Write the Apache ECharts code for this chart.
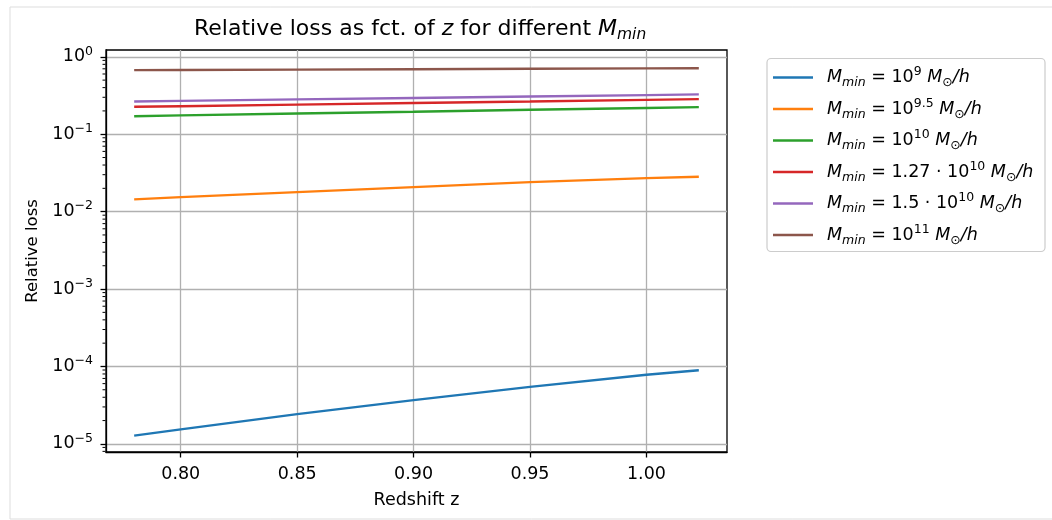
<!DOCTYPE html>
<html>
<head>
<meta charset="utf-8">
<script src="https://cdn.jsdelivr.net/npm/echarts@6/dist/echarts.min.js"></script>
<style>
  html, body { margin: 0; padding: 0; background: #fff; }
  #chart { width: 1052px; height: 520px; }
</style>
</head>
<body>
<div id="chart"></div>
<script>
// ---- data ----
const zValues = [0.78, 0.80, 0.85, 0.90, 0.95, 1.00, 1.0225];
const loss1e9   = [1.28e-5, 1.54e-5, 2.42e-5, 3.67e-5, 5.45e-5, 7.8e-5, 8.95e-5];
const loss1e95  = [0.01438, 0.01539, 0.01786, 0.02074, 0.02404, 0.0271, 0.0282];
const loss1e10  = [0.171, 0.175, 0.185, 0.195, 0.207, 0.218, 0.224];
const loss127e10 = [0.226, 0.230, 0.241, 0.253, 0.265, 0.278, 0.284];
const loss15e10 = [0.265, 0.270, 0.282, 0.294, 0.307, 0.320, 0.327];
const loss1e11  = [0.673, 0.676, 0.684, 0.692, 0.700, 0.708, 0.712];

const seriesNames = ['Mmin=1e9', 'Mmin=1e9.5', 'Mmin=1e10', 'Mmin=1.27e10', 'Mmin=1.5e10', 'Mmin=1e11'];
const legendCoef = ['', '', '', '1.27 · ', '1.5 · ', ''];
const legendExp  = ['9', '9.5', '10', '10', '10', '11'];
const colors = ['#1f77b4', '#ff7f0e', '#2ca02c', '#d62728', '#9467bd', '#8c564b'];
const allLoss = [loss1e9, loss1e95, loss1e10, loss127e10, loss15e10, loss1e11];

const xTicks = [0.80, 0.85, 0.90, 0.95, 1.00];
const yTicks = [1e-5, 1e-4, 1e-3, 1e-2, 1e-1, 1];
const xMin = 0.7679, xMax = 1.0346;
const yMin = Math.pow(10, -5.105), yMax = Math.pow(10, 0.088);

// minor tick positions of the log axis (2..9 x 10^k)
const yMinor = [];
for (let k = -6; k <= 0; k++) {
  for (let m = 2; m <= 9; m++) {
    const v = m * Math.pow(10, k);
    if (v > yMin && v < yMax) yMinor.push(v);
  }
}

const FONT = 'DejaVu Sans';
const FS = 17.5;      // tick / legend / axis-name font size
const FSS = 12.5;     // sub/superscript size
const chart = echarts.init(document.getElementById('chart'), null, { renderer: 'canvas' });

const lineSeries = seriesNames.map((name, i) => ({
  name: name,
  type: 'line',
  data: zValues.map((z, j) => [z, allLoss[i][j]]),
  showSymbol: false,
  symbol: 'none',
  lineStyle: { width: 2.4, color: colors[i] },
  itemStyle: { color: colors[i] },
  z: 3,
  animation: false
}));

const minorSeries = {
  name: 'minor',
  type: 'custom',
  clip: false,
  silent: true,
  z: 5,
  data: yMinor.map(v => [xMin, v]),
  renderItem: function (params, api) {
    const p = api.coord([api.value(0), api.value(1)]);
    return {
      type: 'line',
      shape: { x1: p[0] - 3.5, y1: p[1], x2: p[0] - 0.5, y2: p[1] },
      style: { stroke: '#000', lineWidth: 1 }
    };
  },
  animation: false
};

const option = {
  backgroundColor: '#fff',
  animation: false,
  color: colors,
  textStyle: { fontFamily: FONT },
  title: {
    text: 'Relative loss as fct. of {i|z} for different {i|M}{sub|min}',
    left: 194,
    top: 15,
    padding: 0,
    textStyle: {
      fontFamily: FONT, fontSize: 22, fontWeight: 'normal', color: '#000',
      lineHeight: 28,
      rich: {
        i: { fontFamily: FONT, fontSize: 22, fontStyle: 'italic', color: '#000', lineHeight: 28 },
        sub: { fontFamily: FONT, fontSize: 15.5, fontStyle: 'italic', color: '#000', lineHeight: 15, verticalAlign: 'bottom' }
      }
    }
  },
  graphic: [
    { type: 'rect', z: -10, silent: true, shape: { x: 10, y: 7, width: 1100, height: 512 },
      style: { fill: 'none', stroke: '#dddddd', lineWidth: 1 } },
    { type: 'rect', z: 1, silent: true, shape: { x: 767, y: 58.5, width: 278, height: 193, r: 4 },
      style: { fill: '#fff', stroke: '#cccccc', lineWidth: 1.2 } }
  ],
  grid: {
    left: 106, right: 325, top: 50, bottom: 68,
    show: true, borderColor: '#000', borderWidth: 1.3, backgroundColor: 'transparent'
  },
  legend: {
    data: seriesNames,
    orient: 'vertical',
    left: 767,
    top: 58.5,
    padding: [7, 8, 5, 6],
    itemWidth: 40,
    itemHeight: 2.5,
    itemGap: 7.5,
    icon: 'rect',
    z: 10,
    backgroundColor: 'transparent',
    borderWidth: 0,
    formatter: function (name) {
      const i = seriesNames.indexOf(name);
      return '{g|}{it|M}{sub|min}{t| = ' + legendCoef[i] + '10}{sup|' + legendExp[i] + '}{t| }{it|M}{sub2|⊙}{it|/h}';
    },
    textStyle: {
      fontFamily: FONT, fontSize: FS, color: '#000',
      rich: {
        g: { width: 9, lineHeight: 24 },
        t: { fontFamily: FONT, fontSize: FS, color: '#000', lineHeight: 24 },
        it: { fontFamily: FONT, fontSize: FS, fontStyle: 'italic', color: '#000', lineHeight: 24 },
        sub: { fontFamily: FONT, fontSize: FSS, fontStyle: 'italic', color: '#000', lineHeight: 14, verticalAlign: 'bottom' },
        sub2: { fontFamily: FONT, fontSize: FSS, color: '#000', lineHeight: 14, verticalAlign: 'bottom' },
        sup: { fontFamily: FONT, fontSize: FSS, color: '#000', lineHeight: 14, verticalAlign: 'top' }
      }
    }
  },
  xAxis: {
    type: 'value',
    min: xMin,
    max: xMax,
    name: 'Redshift z',
    nameLocation: 'middle',
    nameGap: 39,
    nameTextStyle: { fontFamily: FONT, fontSize: FS, color: '#000' },
    axisLine: { show: true, onZero: false, lineStyle: { color: '#000', width: 1.3 } },
    axisTick: { show: true, inside: false, length: 5.5, customValues: xTicks, lineStyle: { color: '#000', width: 1.3 } },
    axisLabel: {
      show: true, customValues: xTicks, margin: 13, color: '#000', fontFamily: FONT, fontSize: FS,
      formatter: v => v.toFixed(2)
    },
    splitLine: { show: true, lineStyle: { color: '#b0b0b0', width: 1.3 } }
  },
  yAxis: {
    type: 'log',
    logBase: 10,
    min: yMin,
    max: yMax,
    name: 'Relative loss',
    nameLocation: 'middle',
    nameGap: 62,
    nameTextStyle: { fontFamily: FONT, fontSize: 16.5, color: '#000' },
    axisLine: { show: true, onZero: false, lineStyle: { color: '#000', width: 1.3 } },
    axisTick: { show: true, inside: false, length: 5.5, customValues: yTicks, lineStyle: { color: '#000', width: 1.3 } },
    axisLabel: {
      show: true, customValues: yTicks, margin: 13, color: '#000', fontFamily: FONT, fontSize: FS,
      formatter: function (v) {
        const e = Math.round(Math.log10(v));
        return '{b|10}{s|' + (e < 0 ? '−' + (-e) : String(e)) + '}';
      },
      rich: {
        b: { fontFamily: FONT, fontSize: FS, color: '#000', lineHeight: 24 },
        s: { fontFamily: FONT, fontSize: FSS, color: '#000', lineHeight: 14, verticalAlign: 'top' }
      }
    },
    splitLine: { show: true, lineStyle: { color: '#b0b0b0', width: 1.3 } }
  },
  series: lineSeries.concat([minorSeries])
};

chart.setOption(option);
</script>
</body>
</html>
